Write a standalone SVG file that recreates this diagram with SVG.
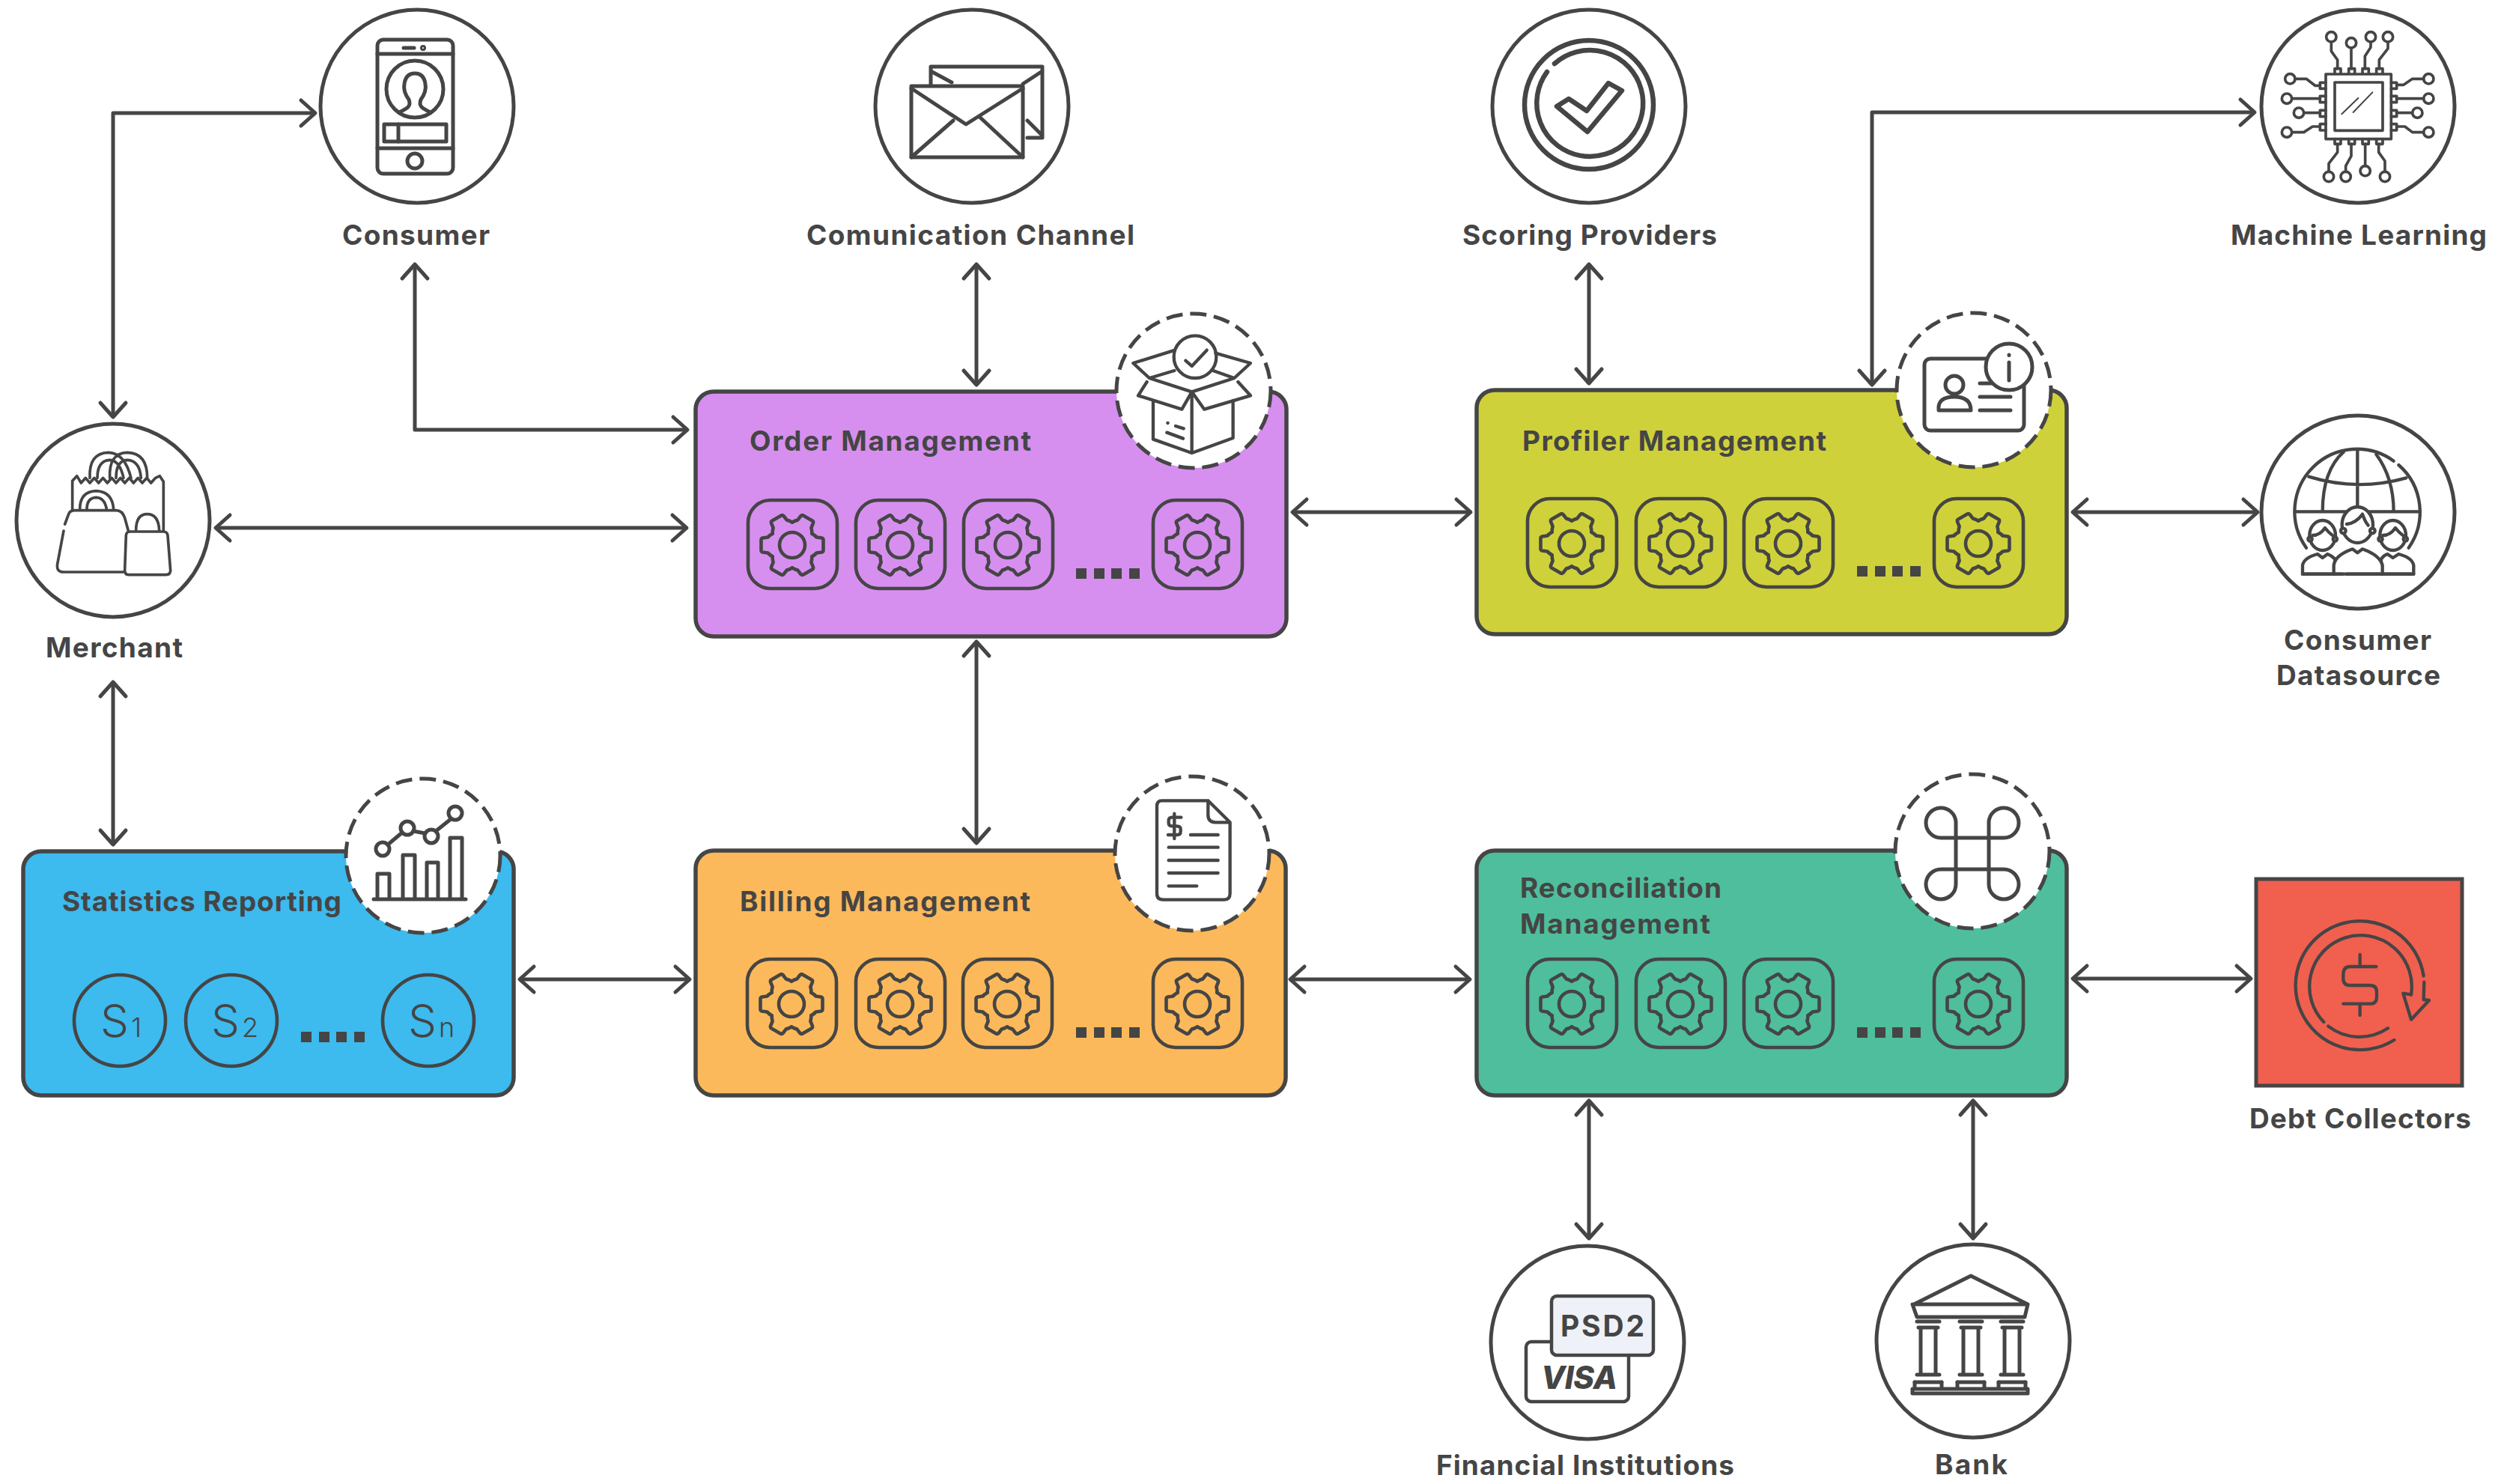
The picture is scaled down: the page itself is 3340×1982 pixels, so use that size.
<svg xmlns="http://www.w3.org/2000/svg" width="3340" height="1982" viewBox="0 0 3340 1982">
<style>
text{font-family:Inter,"Liberation Sans",sans-serif;fill:#454545}
.l{font-size:37px;font-weight:700}
.t{font-size:37px;font-weight:700}
.s{font-size:60px;font-weight:300}
.s tspan{font-size:36px}
.c{fill:#fff;stroke:#454545;stroke-width:5}
.d{fill:#fff;stroke:#454545;stroke-width:5;stroke-dasharray:22 10}
.b{stroke:#454545;stroke-width:5.5}
.i{fill:none;stroke:#454545;stroke-width:5;stroke-linecap:round;stroke-linejoin:round}
.z{fill:none;stroke:#454545;stroke-width:13;stroke-linecap:round;stroke-linejoin:round}
.y{fill:none;stroke:#454545;stroke-width:11;stroke-linecap:round;stroke-linejoin:round}
.w{fill:#fff}
.k{fill:none;stroke:#454545;stroke-width:4.6;stroke-linecap:round;stroke-linejoin:round}
#conn path{fill:none;stroke:#454545;stroke-width:5;stroke-linejoin:round;marker-start:url(#a);marker-end:url(#a)}
</style>
<defs>
<marker id="a" markerUnits="userSpaceOnUse" orient="auto-start-reverse" markerWidth="32" markerHeight="46" viewBox="-26 -23 32 46" refX="0" refY="0" overflow="visible"><path d="M-19 -17L0 0L-19 17" fill="none" stroke="#454545" stroke-width="5" stroke-linecap="round" stroke-linejoin="round"/></marker>
<path id="tooth" d="M26.4 -15.2Q31 -12.5 32.5 -10.5L39.5 -9.5Q41.5 -9 41.5 -7L41.5 7Q41.5 9 39.5 9.5L32.5 10.5Q31 12.5 26.4 15.2"/>
<g id="tile" class="k">
<rect x="0" y="0" width="119" height="118" rx="30"/>
<g transform="translate(59 60)"><circle r="17"/><use href="#tooth"/><use href="#tooth" transform="rotate(60)"/><use href="#tooth" transform="rotate(120)"/><use href="#tooth" transform="rotate(180)"/><use href="#tooth" transform="rotate(240)"/><use href="#tooth" transform="rotate(300)"/></g>
</g>
<g id="dots" fill="#454545"><rect width="14" height="14"/><rect x="24" width="14" height="14"/><rect x="47" width="14" height="14"/><rect x="71" width="14" height="14"/></g>
</defs>
<rect width="3340" height="1982" fill="#fff"/>

<g id="conn">
<path d="M151 557V151H421"/>
<path d="M554 353V574H918"/>
<path d="M288 705H917"/>
<path d="M1304 353V514"/>
<path d="M1726 684H1964"/>
<path d="M2122 353V512"/>
<path d="M2500 514V150H3011"/>
<path d="M2768 684H3015"/>
<path d="M1304 857V1126"/>
<path d="M151 911V1128"/>
<path d="M694 1308H921"/>
<path d="M1723 1308H1963"/>
<path d="M2768 1307H3006"/>
<path d="M2122 1470V1654"/>
<path d="M2635 1470V1654"/>
</g>

<g id="consumer">
<circle class="c" cx="557" cy="142" r="129"/>
<g class="i">
<rect x="504" y="53" width="101" height="179" rx="8"/>
<path d="M504 72H605M504 198H605M539 64H553"/><circle cx="565" cy="64" r="1.5"/>
<circle cx="554" cy="215" r="10"/>
<circle cx="554" cy="119" r="38"/>
<path d="M533 150C546 144 549 141 546 133Q538 122 540 112Q542 98 554 98Q566 98 568 112Q570 122 562 133C559 141 562 144 575 150"/>
<rect x="513" y="166" width="83" height="23"/><path d="M532 166V189"/>
</g>
<text class="l" x="457" y="327" textLength="197">Consumer</text>
</g>

<g id="comm">
<circle class="c" cx="1298" cy="142" r="129"/>
<g class="i">
<path d="M1243 113V89H1392V184H1372M1243 95L1271 110M1392 95L1366 112M1372 161L1392 181"/>
<rect x="1217" y="115" width="149" height="95"/>
<path d="M1217 118L1290 166L1366 118M1217 210L1273 161M1366 210L1308 156"/>
</g>
<text class="l" x="1077" y="327" textLength="438">Comunication Channel</text>
</g>

<g id="scoring">
<circle class="c" cx="2122" cy="142" r="129"/>
<g class="i" style="stroke-width:6.5">
<circle cx="2122" cy="140" r="86"/>
<path d="M2076 85A71 71 0 1 1 2066 96"/>
<path d="M2079 142L2120 176L2166 121L2148 111L2119 148L2095 132Z"/>
</g>
<text class="l" x="1953" y="327" textLength="340">Scoring Providers</text>
</g>

<g id="ml">
<circle class="c" cx="3149" cy="142" r="129"/>
<g transform="translate(3030 25) scale(.3333)" class="y">
<rect x="228" y="222" width="262" height="260"/>
<rect x="264" y="255" width="192" height="193"/>
<path d="M292 382L358 318M338 375L415 295" stroke-width="6"/>
<path d="M264 220V200H288V220M320 220V200H344V220M375 220V200H400V220M431 220V200H456V220M264 482V502H288V482M320 482V502H344V482M375 482V502H400V482M431 482V502H456V482M228 256H205V280H228M228 310H205V335H228M228 367H205V392H228M228 422H205V447H228M490 256H512V280H490M490 310H512V335H490M490 367H512V392H490M490 422H512V447H490"/>
<circle cx="250" cy="73" r="20"/><circle cx="330" cy="97" r="20"/><circle cx="408" cy="73" r="20"/><circle cx="477" cy="73" r="20"/>
<circle cx="240" cy="633" r="20"/><circle cx="308" cy="633" r="20"/><circle cx="386" cy="610" r="20"/><circle cx="465" cy="633" r="20"/>
<circle cx="85" cy="241" r="20"/><circle cx="72" cy="320" r="20"/><circle cx="120" cy="377" r="20"/><circle cx="72" cy="455" r="20"/>
<circle cx="640" cy="241" r="20"/><circle cx="640" cy="320" r="20"/><circle cx="595" cy="377" r="20"/><circle cx="640" cy="455" r="20"/>
<path d="M250 93V130L275 165V200M330 117V200M408 93V115L385 150V200M477 93V120L442 165V200M240 613V580L275 535V502M308 613V590L330 550V502M386 590V502M465 613V570L440 535V502M105 241H150L185 268H205M92 320H205M140 377H205M92 455H140L175 432H205M620 241H575L540 265H512M620 320H512M575 377H512M620 455H575L545 432H512"/>
</g>
<text class="l" x="2979" y="327" textLength="342">Machine Learning</text>
</g>

<g id="merchant">
<circle class="c" cx="151" cy="695" r="129"/>
<g transform="translate(50 585) scale(.3333)" class="y">
<path d="M210 160Q205 60 285 58Q350 60 375 160M240 160Q240 90 290 88Q330 90 345 160M290 160Q285 60 360 58Q440 60 440 160M315 160Q315 90 360 88Q410 90 415 160"/>
<path d="M140 290V172L158 152L175 180L193 160L210 180L228 160L245 180L263 160L280 180L298 160L315 180L333 160L350 180L368 160L385 180L403 160L420 180L438 160L455 180L473 160L490 152L505 175V370"/>
<path d="M170 285Q170 215 235 212Q300 215 305 285M198 285Q198 240 235 238Q270 240 277 285"/>
<path d="M110 345L125 305Q130 290 150 290H315Q340 290 350 320L365 375M105 372L80 505Q75 537 105 537H345"/>
<path d="M395 370Q395 305 440 305Q485 305 488 370"/>
<path d="M370 375H505Q520 375 522 390L533 530Q533 548 515 548H365Q350 548 350 530L355 390Q357 375 370 375Z"/>
</g>
<text class="l" x="61" y="878" textLength="183">Merchant</text>
</g>

<g id="datasource">
<circle class="c" cx="3149" cy="684" r="129"/>
<g transform="translate(3030 565) scale(.3333)" class="z">
<path d="M150 500A250 250 0 0 1 500 152M520 168A250 250 0 0 1 560 500"/>
<path d="M355 110V340M300 115Q215 190 215 355M430 125Q500 220 500 355M110 355H600M160 215Q355 275 550 220"/>
<path class="w" d="M135 605V570Q140 540 195 525L215 540L235 525Q250 530 265 545V605Z"/>
<path class="w" d="M580 605V570Q575 540 520 525L497 540L475 525Q460 530 450 545V605Z"/>
<ellipse class="w" cx="215" cy="450" rx="52" ry="60"/>
<ellipse class="w" cx="497" cy="450" rx="52" ry="60"/>
<path d="M175 450Q205 450 225 420Q240 440 255 450M457 450Q487 450 507 420Q522 440 537 450"/>
<circle class="w" cx="165" cy="465" r="8"/><circle class="w" cx="265" cy="465" r="8"/><circle class="w" cx="447" cy="465" r="8"/><circle class="w" cx="547" cy="465" r="8"/>
<path class="w" d="M260 605V570Q265 530 335 505L355 520L375 505Q445 530 455 570V605Z"/>
<ellipse class="w" cx="355" cy="408" rx="62" ry="72"/>
<path d="M312 405Q350 400 375 365Q385 395 398 410"/>
<circle class="w" cx="298" cy="432" r="10"/><circle class="w" cx="415" cy="432" r="10"/>
<path d="M135 605H295M312 605H580"/>
</g>
<text class="l" x="3050" y="868" textLength="197">Consumer</text>
<text class="l" x="3040" y="915" textLength="219">Datasource</text>
</g>

<g id="order">
<rect class="b" x="929" y="523" width="789" height="327" rx="24" fill="#d68fef"/>
<text class="t" x="1001" y="602" textLength="376">Order Management</text>
<use href="#tile" x="999" y="668"/><use href="#tile" x="1143" y="668"/><use href="#tile" x="1287" y="668"/><use href="#tile" x="1540" y="668"/>
<use href="#dots" x="1437" y="759"/>
<circle class="d" cx="1594" cy="522" r="103"/>
<g transform="translate(1490 415) scale(.3333)" class="z">
<circle cx="318" cy="185" r="85"/>
<path d="M280 200L305 222L365 158"/>
<path d="M230 160L70 210L135 270L235 240M400 170L540 210L475 270L390 240M135 270L305 325L475 270M125 285L90 340L265 395L305 325L355 395L540 340L490 285M150 360V515L305 570L470 510V360M305 325V570M208 450h1M240 462L272 472M205 488L270 512"/>
</g>
</g>

<g id="profiler">
<rect class="b" x="1972" y="521" width="788" height="326" rx="24" fill="#cfd13a"/>
<text class="t" x="2033" y="602" textLength="406">Profiler Management</text>
<use href="#tile" x="2040" y="666"/><use href="#tile" x="2185" y="666"/><use href="#tile" x="2329" y="666"/><use href="#tile" x="2583" y="666"/>
<use href="#dots" x="2480" y="756"/>
<circle class="d" cx="2636" cy="521" r="103"/>
<g class="i">
<rect x="2570" y="479" width="133" height="96" rx="8"/>
<circle cx="2610" cy="514" r="12"/>
<path d="M2589 548Q2587 530 2610 530Q2632 530 2632 548ZM2644 512H2681M2644 530H2685M2644 548H2685"/>
<circle class="w" cx="2683" cy="490" r="31"/>
<path d="M2683 484V508M2683 474V474.5"/>
</g>
</g>

<g id="statistics">
<rect class="b" x="31" y="1137" width="655" height="326" rx="24" fill="#3dbaee"/>
<text class="t" x="83" y="1217" textLength="373">Statistics Reporting</text>
<g class="k"><circle cx="160" cy="1363" r="61"/><circle cx="309" cy="1363" r="61"/><circle cx="572" cy="1363" r="61"/></g>
<text class="s" x="134" y="1385">S<tspan dx="3">1</tspan></text>
<text class="s" x="282" y="1385">S<tspan dx="3">2</tspan></text>
<text class="s" x="545" y="1385">S<tspan dx="3">n</tspan></text>
<use href="#dots" x="402" y="1378"/>
<circle class="d" cx="565" cy="1143" r="103"/>
<g class="i">
<path d="M499 1201H622M504 1201V1167H520V1201M538 1201V1142H554V1201M570 1201V1152H585V1201M601 1201V1119H617V1201"/>
<circle cx="511" cy="1134" r="9"/><circle cx="544" cy="1106" r="9"/><circle cx="576" cy="1117" r="9"/><circle cx="608" cy="1086" r="9"/>
<path d="M518 1128L537 1112M552 1110L568 1113M582 1110L602 1094"/>
</g>
</g>

<g id="billing">
<rect class="b" x="929" y="1136" width="788" height="327" rx="24" fill="#fcb95b"/>
<text class="t" x="988" y="1217" textLength="388">Billing Management</text>
<use href="#tile" x="998" y="1281"/><use href="#tile" x="1143" y="1281"/><use href="#tile" x="1286" y="1281"/><use href="#tile" x="1540" y="1281"/>
<use href="#dots" x="1437" y="1372"/>
<circle class="d" cx="1592" cy="1140" r="103"/>
<g transform="translate(1440 1020) scale(.3333)" class="z">
<path d="M520 148H335Q315 148 315 170V520Q315 545 340 545H585Q608 545 608 520V235L520 148V205Q520 235 550 235H608"/>
<path d="M450 285H560M362 335H560M362 387H560M362 438H560M362 490H475M412 215H375Q362 215 362 230V238Q362 250 375 250H395Q410 250 410 262V272Q410 285 395 285H360M385 200V300"/>
</g>
</g>

<g id="reconciliation">
<rect class="b" x="1972" y="1136" width="788" height="327" rx="24" fill="#4fbe9c"/>
<text class="t" x="2030" y="1199" textLength="269">Reconciliation</text>
<text class="t" x="2030" y="1247" textLength="254">Management</text>
<use href="#tile" x="2040" y="1281"/><use href="#tile" x="2185" y="1281"/><use href="#tile" x="2329" y="1281"/><use href="#tile" x="2583" y="1281"/>
<use href="#dots" x="2480" y="1372"/>
<circle class="d" cx="2634" cy="1137" r="103"/>
<path class="i" d="M2612 1098V1181A20 20 0 1 1 2592 1161H2676A20 20 0 1 1 2656 1181V1098A20 20 0 1 1 2676 1119H2592A20 20 0 1 1 2612 1098Z"/>
</g>

<g id="debt">
<rect x="3013" y="1174" width="275" height="276" fill="#f15f4f" stroke="#454545" stroke-width="5"/>
<g transform="translate(3040 1210) scale(.3333)" class="z">
<path d="M590 280A258 258 0 1 0 472 537M540 355A205 205 0 1 0 190 465M208 482A205 205 0 0 0 447 490"/>
<path d="M592 305L590 375L612 378L540 455L508 350L540 355"/>
<path d="M400 243H295Q268 243 268 275V290Q268 318 295 318H375Q402 318 402 345V365Q402 392 375 392H268M335 195V243M335 392V438"/>
</g>
<text class="l" x="3004" y="1507" textLength="296">Debt Collectors</text>
</g>

<g id="financial">
<circle class="c" cx="2120" cy="1793" r="129"/>
<rect x="2038" y="1792" width="137" height="80" rx="7" fill="#fff" stroke="#454545" stroke-width="4.5"/>
<rect x="2072" y="1731" width="136" height="79" rx="7" fill="#eff1f8" stroke="#454545" stroke-width="4.5"/>
<text x="2084" y="1785" font-size="39" font-weight="700" textLength="112">PSD2</text>
<text x="2058" y="1855" font-size="42" font-weight="800" font-style="italic" textLength="102">VISA</text>
<text class="l" x="1918" y="1970" textLength="398">Financial Institutions</text>
</g>

<g id="bank">
<circle class="c" cx="2635" cy="1791" r="129"/>
<g class="i">
<path d="M2556 1742L2632 1704L2708 1742ZM2554 1742L2560 1759H2704L2708 1742"/>
<path d="M2560 1765H2590M2562 1773H2588M2617 1765H2647M2619 1773H2645M2672 1765H2702M2674 1773H2700M2565 1773V1836H2585V1773M2622 1773V1836H2642V1773M2677 1773V1836H2697V1773M2560 1836H2590M2617 1836H2647M2672 1836H2702M2557 1846H2593M2614 1846H2650M2669 1846H2705"/>
<path d="M2554 1855V1861H2708V1855ZM2557 1846V1855M2593 1846V1855M2614 1846V1855M2650 1846V1855M2669 1846V1855M2705 1846V1855"/>
</g>
<text class="l" x="2584" y="1969" textLength="97">Bank</text>
</g>
</svg>
